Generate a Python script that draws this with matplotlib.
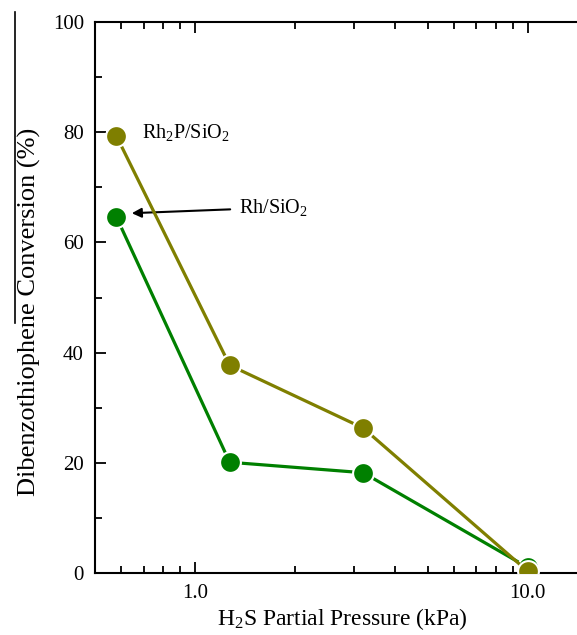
import matplotlib
matplotlib.use("Agg")
import matplotlib.pyplot as plt
from matplotlib.lines import Line2D
from matplotlib.ticker import FixedLocator, NullFormatter, FixedFormatter

plt.rcParams['font.family'] = ['Liberation Serif', 'DejaVu Serif']
plt.rcParams['mathtext.default'] = 'regular'

# H2S partial pressure (kPa) and DBT conversion (%)
pressure = [0.58, 1.27, 3.2, 10.0]
rh2p_conv = [79.3, 37.7, 26.3, 0.3]
rh_conv = [64.6, 20.1, 18.2, 1.0]

x_ticks = [1.0, 10.0]
x_tick_labels = ["1.0", "10.0"]
y_ticks = [0, 20, 40, 60, 80, 100]

W, H = 577, 635
fig = plt.figure(figsize=(W / 100, H / 100), dpi=100)
left, right, bottom, top = 95, 628, 573, 22
ax = fig.add_axes([left / W, 1 - bottom / H, (right - left) / W, (bottom - top) / H])

olive = '#7f7f00'
green = '#008000'
ax.plot(pressure, rh_conv, color=green, lw=2.3, marker='o', ms=15,
        mec='white', mew=1.5, zorder=3)
ax.plot(pressure, rh2p_conv, color=olive, lw=2.3, marker='o', ms=15,
        mec='white', mew=1.5, zorder=4)

ax.set_xscale('log')
ax.set_xlim(0.5, 20)
ax.set_ylim(0, 100)

ax.xaxis.set_major_locator(FixedLocator(x_ticks))
ax.xaxis.set_major_formatter(FixedFormatter(x_tick_labels))
minors = [0.6, 0.7, 0.8, 0.9] + list(range(2, 10)) + [20]
ax.xaxis.set_minor_locator(FixedLocator(minors))
ax.xaxis.set_minor_formatter(NullFormatter())
ax.set_yticks(y_ticks)
ax.set_yticks([10, 30, 50, 70, 90], minor=True)

ax.tick_params(which='both', direction='in', top=True, right=True,
               labelsize=15, width=1.3, pad=8)
ax.tick_params(which='major', length=8)
ax.tick_params(which='minor', length=5)
for s in ax.spines.values():
    s.set_linewidth(1.5)

ax.set_xlabel('H$_2$S Partial Pressure (kPa)', fontsize=17)
ax.xaxis.set_label_coords((342 - left) / (right - left), -(606 - bottom) / (bottom - top))
ax.set_ylabel('Dibenzothiophene Conversion (%)', fontsize=19)
ax.yaxis.set_label_coords(-(95 - 41) / (right - left), (bottom - 312) / (bottom - top))

ax.text(0.69, 80, 'Rh$_2$P/SiO$_2$', fontsize=14.5, va='center', ha='left')
ax.annotate('Rh/SiO$_2$', xy=(0.645, 65.3), xytext=(1.35, 66.3),
            fontsize=14.5, va='center', ha='left',
            arrowprops=dict(arrowstyle='-|>', color='black', lw=1.5,
                            mutation_scale=14, shrinkA=4, shrinkB=0))

fig.add_artist(Line2D([15 / W, 15 / W], [1 - 12 / H, 1 - 323 / H],
                      color='black', lw=1.2))

fig.savefig('out.png', dpi=100)
